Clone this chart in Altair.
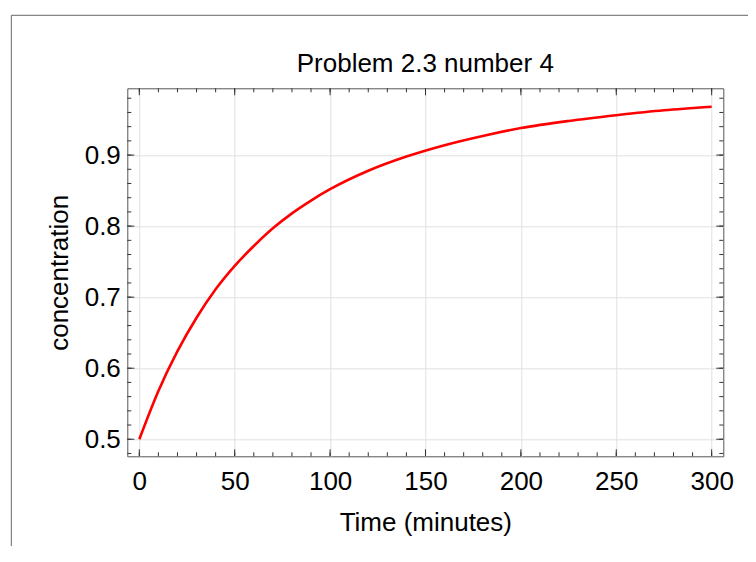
import altair as alt
import pandas as pd

# ---- data ----
time_min = [0, 10, 20, 30, 40, 50, 60, 70, 80, 90, 100, 120, 140, 160, 180, 200, 225, 250, 275, 300]
concentration = [0.500, 0.568, 0.624, 0.671, 0.711, 0.744, 0.772, 0.797, 0.818, 0.836, 0.852, 0.878,
                 0.898, 0.914, 0.927, 0.938, 0.948, 0.956, 0.963, 0.968]

x_major = [0, 50, 100, 150, 200, 250, 300]
y_major = [0.5, 0.6, 0.7, 0.8, 0.9]
x_minor = list(range(0, 301, 10))
y_minor = [round(0.48 + 0.02 * i, 2) for i in range(26)]

x_domain = [-6.3, 306.1]
y_domain = [0.476, 0.994]

W, H = 596, 368
FONT = "Liberation Sans"
FS = 26
FRAME = "#555555"
TICK = "#333333"

xs = alt.Scale(domain=x_domain, nice=False, zero=False)
ys = alt.Scale(domain=y_domain, nice=False, zero=False)

df = pd.DataFrame({"t": time_min, "c": concentration})

line = alt.Chart(df).mark_line(color="#ff0000", strokeWidth=2.6, interpolate="monotone").encode(
    x=alt.X("t:Q", scale=xs, axis=alt.Axis(
        values=x_major, grid=True, ticks=False, tickSize=0, domain=False,
        labelFontSize=FS, labelFont=FONT, labelColor="black", labelPadding=12,
        title="Time (minutes)", titleFontSize=FS, titleFont=FONT, titleFontWeight="normal",
        titleColor="black", titlePadding=15, gridColor="#e0e0e0")),
    y=alt.Y("c:Q", scale=ys, axis=alt.Axis(
        values=y_major, format=".1f", grid=True, ticks=False, tickSize=0, domain=False,
        labelFontSize=FS, labelFont=FONT, labelColor="black", labelPadding=7,
        title="concentration", titleFontSize=FS, titleFont=FONT, titleFontWeight="normal",
        titleColor="black", titlePadding=12, gridColor="#e0e0e0")),
)

xmaj = pd.DataFrame({"t": x_major})
xmin = pd.DataFrame({"t": x_minor})
ymaj = pd.DataFrame({"c": y_major})
ymin = pd.DataFrame({"c": y_minor})


def xticks(data, length):
    bottom = alt.Chart(data).mark_rule(color=TICK, strokeWidth=1).encode(
        x=alt.X("t:Q", scale=xs), y=alt.value(H), y2=alt.value(H - length))
    top = alt.Chart(data).mark_rule(color=TICK, strokeWidth=1).encode(
        x=alt.X("t:Q", scale=xs), y=alt.value(0), y2=alt.value(length))
    return [bottom, top]


def yticks(data, length):
    left = alt.Chart(data).mark_rule(color=TICK, strokeWidth=1).encode(
        y=alt.Y("c:Q", scale=ys), x=alt.value(0), x2=alt.value(length))
    right = alt.Chart(data).mark_rule(color=TICK, strokeWidth=1).encode(
        y=alt.Y("c:Q", scale=ys), x=alt.value(W), x2=alt.value(W - length))
    return [left, right]


one = pd.DataFrame({"a": [0]})
border_top = alt.Chart(one).mark_rule(color="#666666", strokeWidth=1).encode(
    x=alt.value(-116), x2=alt.value(W + 40), y=alt.value(-73))
border_left = alt.Chart(one).mark_rule(color="#666666", strokeWidth=1).encode(
    x=alt.value(-116), y=alt.value(-73), y2=alt.value(H + 110))

title = alt.Chart(one).mark_text(
    text="Problem 2.3 number 4", fontSize=FS, font=FONT, color="black",
    align="center", baseline="alphabetic").encode(x=alt.value(W / 2), y=alt.value(-16.6))

layers = [line] + xticks(xmaj, 7) + xticks(xmin, 4) + yticks(ymaj, 7) + yticks(ymin, 4) + [border_top, border_left, title]

chart = alt.layer(*layers).properties(
    width=W, height=H,
    autosize=alt.AutoSizeParams(type="none"),
    padding={"left": 119.3, "top": 80.3, "right": 24.7, "bottom": 90},
).configure_view(stroke=FRAME, strokeWidth=1)

chart.save("out.html", embed_options={"renderer": "svg", "actions": False})
